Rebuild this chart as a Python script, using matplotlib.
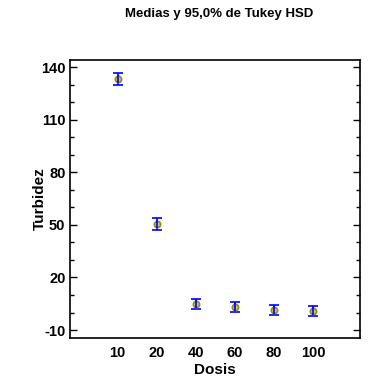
import numpy as np
import matplotlib
matplotlib.use("Agg")
import matplotlib.pyplot as plt
from matplotlib.ticker import MultipleLocator

plt.rcParams['font.family'] = ['Liberation Sans', 'DejaVu Sans']
plt.rcParams['axes.unicode_minus'] = False

dosis = ['10', '20', '40', '60', '80', '100']
medias = [133.2, 50.4, 4.7, 3.2, 1.6, 1.0]
intervalo = [3.4, 3.4, 2.9, 2.9, 2.9, 2.9]

fig = plt.figure(figsize=(3.78, 3.88), dpi=100)
ax = fig.add_axes([0.184, 0.129, 0.768, 0.716])

x = np.arange(len(dosis))
ax.errorbar(x, medias, yerr=intervalo, fmt='none', ecolor='#0000ff',
            elinewidth=1.2, capsize=3.5, capthick=1.2, zorder=2)
ax.plot(x, medias, 'o', ms=4.5, mfc='#c8c870', mec='#8c8c20', mew=1.2, zorder=3)
ax.plot(x, medias, '|', ms=6, color='#0000ff', mew=1.2, zorder=4)

ax.set_xlim(-1.23, 6.2)
ax.set_ylim(-14.5, 144)
ax.set_xticks(x)
ax.set_xticklabels(dosis)
ax.set_yticks([140, 110, 80, 50, 20, -10])
ax.yaxis.set_minor_locator(MultipleLocator(10))

ax.tick_params(axis='x', length=0, labelsize=10.5, pad=6)
ax.tick_params(axis='y', which='major', direction='in', length=5, width=1,
               right=True, labelsize=10.5, pad=3)
ax.tick_params(axis='y', which='minor', direction='in', length=3, width=1,
               right=True)
for lab in ax.get_xticklabels() + ax.get_yticklabels():
    lab.set_fontweight('bold')
for s in ax.spines.values():
    s.set_linewidth(1.2)

ax.set_xlabel('Dosis', fontsize=11, fontweight='bold', labelpad=2)
ax.set_ylabel('Turbidez', fontsize=11, fontweight='bold', labelpad=-4)
fig.text(0.58, 0.963, 'Medias y 95,0% de Tukey HSD', ha='center',
         va='center', fontsize=9.5, fontweight='bold')

fig.savefig('out.png', dpi=100)
